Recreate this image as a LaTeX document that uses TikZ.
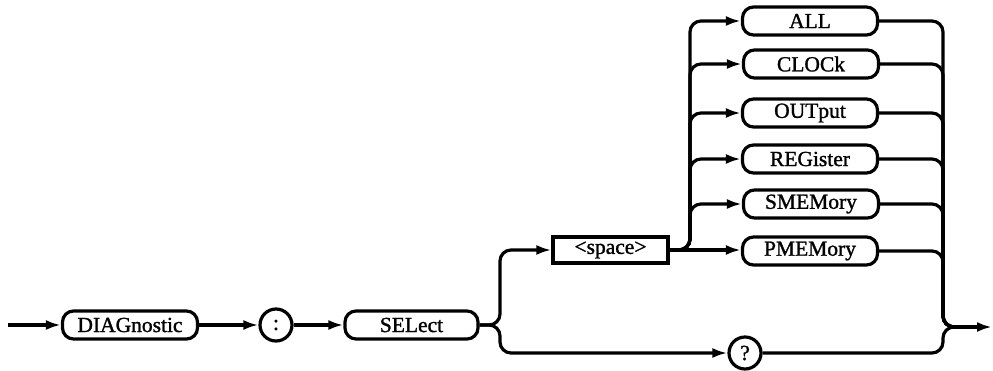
\documentclass[tikz,border=0pt]{standalone}
\usepackage{fontspec}
\setmainfont{Liberation Serif}[BoldFont=Liberation Serif, BoldFeatures={FakeBold=1.3}]
\usetikzlibrary{arrows.meta}
\begin{document}
\begin{tikzpicture}[x=1pt,y=-1pt,
  line width=3.2pt,
  every node/.style={font=\fontsize{21.5}{24}\selectfont\bfseries, inner sep=0pt},
  term/.style={draw, rounded corners=11pt, minimum width=135pt, minimum height=28pt},
  rterm/.style={draw, minimum width=115pt, minimum height=26pt},
  cterm/.style={draw, circle, minimum size=32pt},
  conn/.style={rounded corners=11pt},
  arr/.style={-{Latex[length=15pt,width=10pt]}}
]
\useasboundingbox (0,0) rectangle (993,370);

\node[term] (diag) at (130,325) {DIAGnostic};
\node[cterm] (colon) at (276,325) {:};
\node[term, minimum width=133pt] (sel) at (411.5,325) {SELect};
\node[rterm] (space) at (610.5,250) {<space>};
\node[term] (all) at (810,21) {ALL};
\node[term] (clock) at (811,64) {CLOCk};
\node[term] (output) at (810,113) {OUTput};
\node[term] (reg) at (810,159) {REGister};
\node[term] (smem) at (811,204) {SMEMory};
\node[term] (pmem) at (810,251) {PMEMory};
\node[cterm] (q) at (745,353) {?};

\coordinate (start) at (8,325);
\coordinate (exit) at (992,327);

\draw[arr] (start) -- (diag.west);
\draw[arr] (diag.east) -- (colon.west);
\draw[arr] (colon.east) -- (sel.west);

\draw[arr,conn] (sel.east) -- (500,325) -- (500,250) -- (space.west);
\draw[arr,conn] (sel.east) -- (500,325) -- (500,353) -- (q.west);

\draw[arr] (space.east) -- (pmem.west |- space.east);
\foreach \n in {all,clock,output,reg,smem}{
  \draw[arr,conn] (space.east) -- (690,250) -- (690,0 |- \n.west) -- (\n.west);
}

\foreach \n in {all,clock,output,reg,smem,pmem}{
  \draw[conn] (\n.east) -- (943,0 |- \n.east) -- (943,327) -- (960,327);
}
\draw[conn] (q.east) -- (943,353) -- (943,327) -- (960,327);
\draw[arr] (955,327) -- (exit);
\end{tikzpicture}
\end{document}
